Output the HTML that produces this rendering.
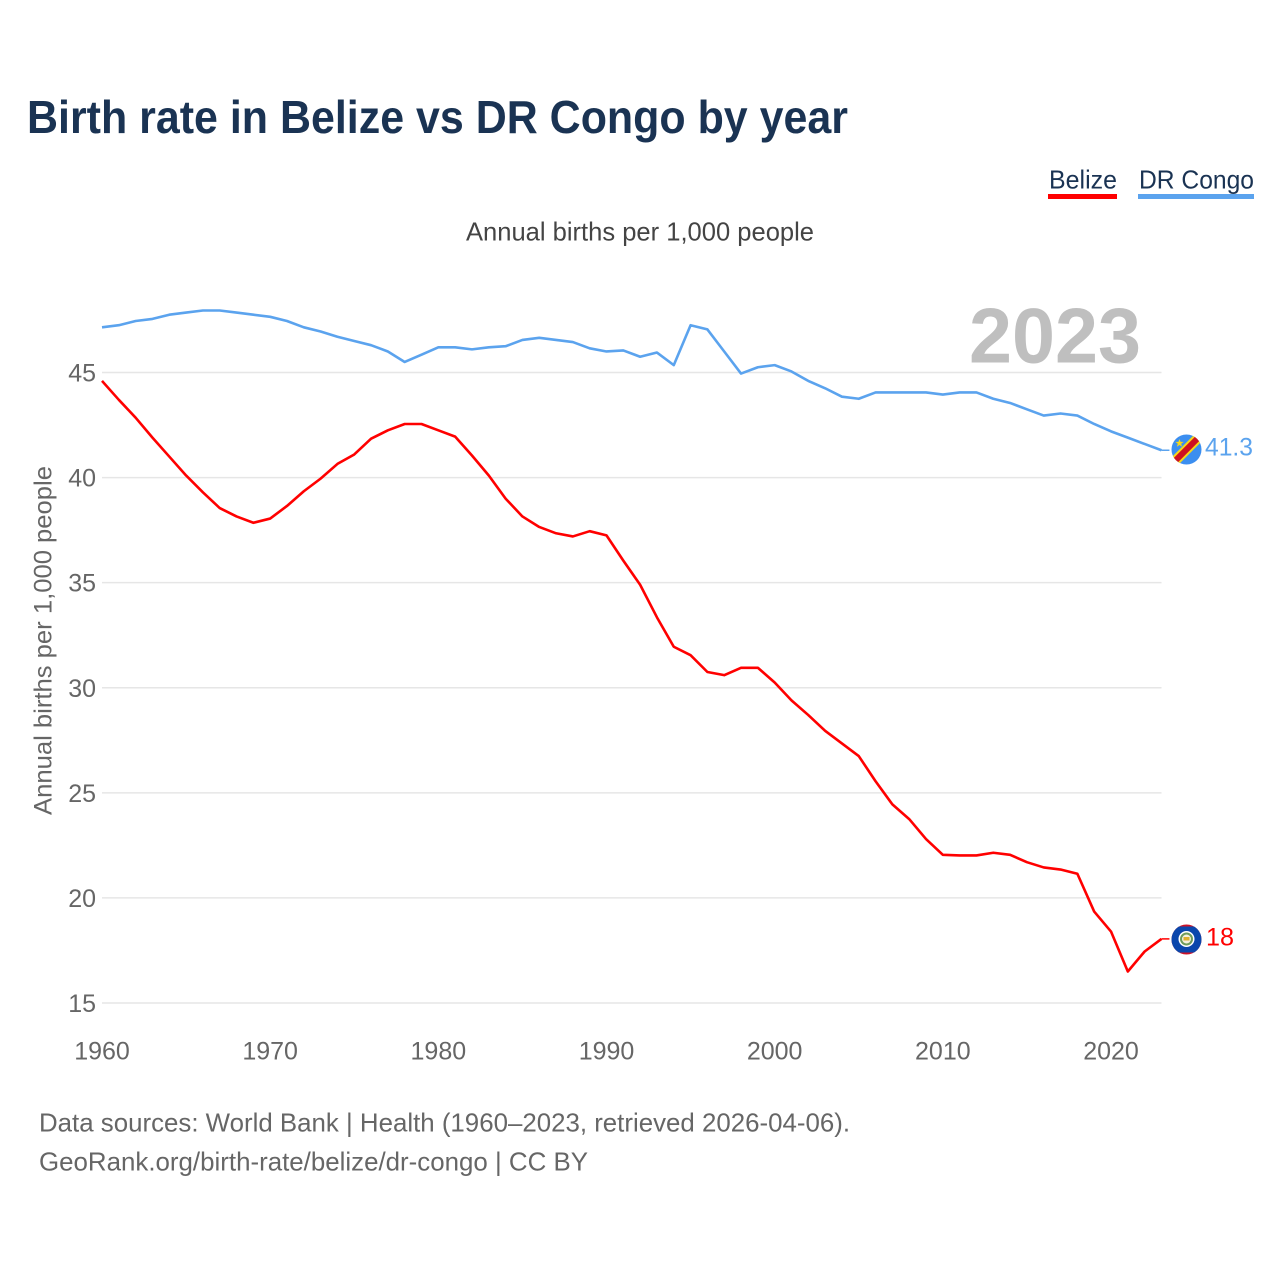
<!DOCTYPE html>
<html lang="en">
<head>
<meta charset="utf-8">
<title>Birth rate in Belize vs DR Congo by year</title>
<style>
  html, body { margin: 0; padding: 0; background: #fff; }
  svg { display: block; font-family: "Liberation Sans", sans-serif; }
</style>
</head>
<body>
<svg id="chart" xmlns="http://www.w3.org/2000/svg" width="1280" height="1280" viewBox="0 0 1280 1280">
  <defs>
    <clipPath id="flag-clip-cd"><circle cx="1186.5" cy="449.5" r="15"/></clipPath>
    <clipPath id="flag-clip-bz"><circle cx="1186.5" cy="939.5" r="15"/></clipPath>
  </defs>
  <rect width="1280" height="1280" fill="#fff"/>
  <text x="27" y="133" font-size="46" font-weight="700" fill="#1a3353" textLength="821" lengthAdjust="spacingAndGlyphs">Birth rate in Belize vs DR Congo by year</text>

  <g>
    <g>
      <text x="1049" y="188.5" font-size="26" fill="#1a3353" textLength="68" lengthAdjust="spacingAndGlyphs">Belize</text>
      <rect x="1048" y="194" width="69" height="5" fill="#ff0000"/>
    </g>
    <g>
      <text x="1139" y="188.5" font-size="26" fill="#1a3353" textLength="115" lengthAdjust="spacingAndGlyphs">DR Congo</text>
      <rect x="1138" y="194" width="116" height="5" fill="#5ba3ee"/>
    </g>
  </g>

  <text x="466" y="240.5" font-size="26" fill="#444" textLength="348" lengthAdjust="spacingAndGlyphs">Annual births per 1,000 people</text>
  <text transform="translate(51.5 815) rotate(-90)" font-size="25" fill="#666" textLength="349" lengthAdjust="spacingAndGlyphs">Annual births per 1,000 people</text>

  <g id="grid"></g>
  <g id="y-ticks"></g>
  <g id="x-ticks"></g>

  <text x="969" y="362.5" font-size="78" font-weight="700" fill="#bfbfbf" textLength="172" lengthAdjust="spacingAndGlyphs">2023</text>

  <g id="series"></g>

  <g clip-path="url(#flag-clip-cd)">
    <rect x="1170" y="433" width="33" height="33" fill="#3b8ef0"/>
    <line x1="1168" y1="468" x2="1205" y2="431" stroke="#f7d618" stroke-width="10"/>
    <line x1="1168" y1="468" x2="1205" y2="431" stroke="#ce1021" stroke-width="6"/>
    <polygon points="1179.5,439 1180.6,441.9 1183.7,441.9 1181.2,443.8 1182.1,446.8 1179.5,445 1176.9,446.8 1177.8,443.8 1175.3,441.9 1178.4,441.9" fill="#f7d618"/>
  </g>
  <g clip-path="url(#flag-clip-bz)">
    <rect x="1170" y="923" width="33" height="33" fill="#ce1126"/>
    <rect x="1170" y="926.5" width="33" height="26" fill="#0a46ac"/>
    <circle cx="1186.5" cy="939" r="8" fill="#fff"/>
    <circle cx="1186.5" cy="939" r="6.5" fill="#6f9c5a"/>
    <circle cx="1186.5" cy="939" r="4.5" fill="#f4f0dc"/>
    <rect x="1183.5" y="937" width="6" height="3.5" fill="#e0b030"/>
  </g>

  <text id="value-dr-congo" x="1205" y="455.5" font-size="25" fill="#5ba3ee" textLength="48" lengthAdjust="spacingAndGlyphs"></text>
  <text id="value-belize" x="1206" y="945.5" font-size="25" fill="#ff0000" textLength="28" lengthAdjust="spacingAndGlyphs"></text>

  <text x="39" y="1131.5" font-size="26" fill="#666" textLength="811" lengthAdjust="spacingAndGlyphs">Data sources: World Bank | Health (1960–2023, retrieved 2026-04-06).</text>
  <text x="39" y="1170.5" font-size="26" fill="#666" textLength="549" lengthAdjust="spacingAndGlyphs">GeoRank.org/birth-rate/belize/dr-congo | CC BY</text>
</svg>

<script>
const firstYear = 1960;
const yTickValues = [15, 20, 25, 30, 35, 40, 45];
const xTickValues = [1960, 1970, 1980, 1990, 2000, 2010, 2020];
const belizeValues = [
  44.6, 43.7, 42.85, 41.9, 41.0, 40.1, 39.3, 38.55, 38.15, 37.85,
  38.05, 38.65, 39.35, 39.95, 40.65, 41.1, 41.85, 42.25, 42.55, 42.55,
  42.25, 41.95, 41.05, 40.1, 39.0, 38.15, 37.65, 37.35, 37.2, 37.45,
  37.25, 36.05, 34.9, 33.35, 31.95, 31.55, 30.75, 30.6, 30.95, 30.95,
  30.25, 29.4, 28.7, 27.95, 27.35, 26.75, 25.55, 24.45, 23.75, 22.8,
  22.05, 22.02, 22.02, 22.15, 22.05, 21.7, 21.45, 21.35, 21.15, 19.35,
  18.4, 16.5, 17.45, 18.05
];
const congoValues = [
  47.15, 47.25, 47.45, 47.55, 47.75, 47.85, 47.95, 47.95, 47.85, 47.75,
  47.65, 47.45, 47.15, 46.95, 46.7, 46.5, 46.3, 46.0, 45.5, 45.85,
  46.2, 46.2, 46.1, 46.2, 46.25, 46.55, 46.65, 46.55, 46.45, 46.15,
  46.0, 46.05, 45.75, 45.95, 45.35, 47.25, 47.05, 46.0, 44.95, 45.25,
  45.35, 45.05, 44.6, 44.25, 43.85, 43.75, 44.05, 44.05, 44.05, 44.05,
  43.95, 44.05, 44.05, 43.75, 43.55, 43.25, 42.95, 43.05, 42.95, 42.55,
  42.2, 41.9, 41.6, 41.3
];
const belizeLatestLabel = "18";
const congoLatestLabel = "41.3";

const SVG_NS = "http://www.w3.org/2000/svg";
function xScale(year) { return 102 + (year - 1960) * (1111 - 102) / 60; }
function yScale(value) { return 1003 - (value - 15) * (1003 - 372.5) / 30; }

const gridGroup = document.getElementById("grid");
const yTickGroup = document.getElementById("y-ticks");
const xTickGroup = document.getElementById("x-ticks");
const seriesGroup = document.getElementById("series");

yTickValues.forEach(function (value) {
  const line = document.createElementNS(SVG_NS, "line");
  line.setAttribute("x1", 102);
  line.setAttribute("x2", 1161.5);
  line.setAttribute("y1", yScale(value));
  line.setAttribute("y2", yScale(value));
  line.setAttribute("stroke", "#e6e6e6");
  line.setAttribute("stroke-width", 1.5);
  
  
  gridGroup.appendChild(line);

  const label = document.createElementNS(SVG_NS, "text");
  label.textContent = String(value);
  label.setAttribute("x", 96);
  label.setAttribute("y", yScale(value) + 9);
  label.setAttribute("text-anchor", "end");
  label.setAttribute("font-size", 25);
  label.setAttribute("fill", "#666");
  
  
  yTickGroup.appendChild(label);
});

xTickValues.forEach(function (year) {
  const label = document.createElementNS(SVG_NS, "text");
  label.textContent = String(year);
  label.setAttribute("x", xScale(year));
  label.setAttribute("y", 1059.5);
  label.setAttribute("text-anchor", "middle");
  label.setAttribute("font-size", 25);
  label.setAttribute("fill", "#666");
  
  
  xTickGroup.appendChild(label);
});

function linePoints(values) {
  return values.map(function (value, i) {
    return xScale(firstYear + i).toFixed(2) + "," + yScale(value).toFixed(2);
  }).join(" ");
}

const belizeLine = document.createElementNS(SVG_NS, "polyline");
belizeLine.setAttribute("points", linePoints(belizeValues));
belizeLine.setAttribute("fill", "none");
belizeLine.setAttribute("stroke", "#ff0000");
belizeLine.setAttribute("stroke-width", 2.6);
belizeLine.setAttribute("stroke-linejoin", "round");


seriesGroup.appendChild(belizeLine);

const congoLine = document.createElementNS(SVG_NS, "polyline");
congoLine.setAttribute("points", linePoints(congoValues));
congoLine.setAttribute("fill", "none");
congoLine.setAttribute("stroke", "#5ba3ee");
congoLine.setAttribute("stroke-width", 2.6);
congoLine.setAttribute("stroke-linejoin", "round");


seriesGroup.appendChild(congoLine);

const lastYear = firstYear + belizeValues.length - 1;

const belizeStub = document.createElementNS(SVG_NS, "line");
belizeStub.setAttribute("x1", xScale(lastYear));
belizeStub.setAttribute("x2", xScale(lastYear) + 8);
belizeStub.setAttribute("y1", yScale(belizeValues[belizeValues.length - 1]));
belizeStub.setAttribute("y2", yScale(belizeValues[belizeValues.length - 1]));
belizeStub.setAttribute("stroke", "#ff0000");
belizeStub.setAttribute("stroke-width", 1.5);


seriesGroup.appendChild(belizeStub);

const congoStub = document.createElementNS(SVG_NS, "line");
congoStub.setAttribute("x1", xScale(lastYear));
congoStub.setAttribute("x2", xScale(lastYear) + 8);
congoStub.setAttribute("y1", yScale(congoValues[congoValues.length - 1]));
congoStub.setAttribute("y2", yScale(congoValues[congoValues.length - 1]));
congoStub.setAttribute("stroke", "#5ba3ee");
congoStub.setAttribute("stroke-width", 1.5);


seriesGroup.appendChild(congoStub);

document.getElementById("value-belize").textContent = belizeLatestLabel;
document.getElementById("value-dr-congo").textContent = congoLatestLabel;
</script>
</body>
</html>
